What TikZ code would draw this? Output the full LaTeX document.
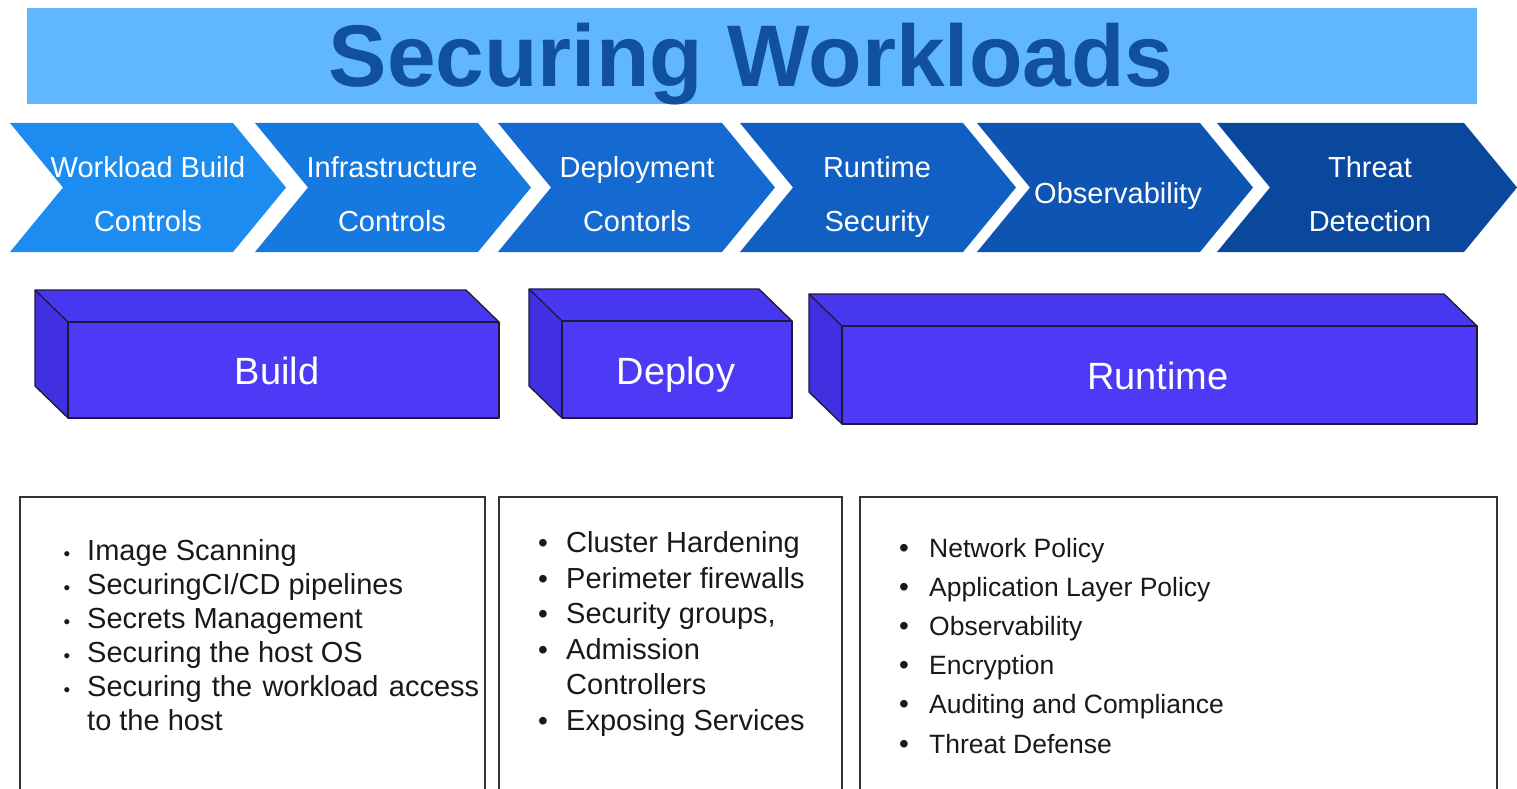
\documentclass[tikz,border=0pt]{standalone}
\usepackage{fontspec}
\setmainfont{Liberation Sans}
\definecolor{banner}{RGB}{97,183,255}
\definecolor{titleblue}{RGB}{16,80,158}
\definecolor{cA}{RGB}{28,140,240}
\definecolor{cB}{RGB}{22,121,224}
\definecolor{cC}{RGB}{20,106,208}
\definecolor{cD}{RGB}{17,95,194}
\definecolor{cE}{RGB}{14,84,178}
\definecolor{cF}{RGB}{10,72,158}
\definecolor{boxfront}{RGB}{76,58,246}
\definecolor{boxtop}{RGB}{72,55,240}
\definecolor{boxside}{RGB}{64,48,225}
\definecolor{boxedge}{RGB}{30,25,60}
\definecolor{txt}{RGB}{25,25,25}
\begin{document}
\begin{tikzpicture}[x=1pt,y=-1pt,
  chevtext/.style={text=white,font=\fontsize{29}{54}\selectfont,align=center,inner sep=0pt,anchor=base},
  boxtext/.style={text=white,font=\fontsize{38}{40}\selectfont,inner sep=0pt,anchor=base},
  listtext/.style={text=txt,anchor=base west,inner sep=0pt,font=\fontsize{29}{34}\selectfont},
  listtextc/.style={text=txt,anchor=base west,inner sep=0pt,font=\fontsize{26.5}{34}\selectfont},
  smallbul/.style={text=txt,anchor=base,inner sep=0pt,font=\fontsize{19}{19}\selectfont},
  bigbul/.style={text=txt,anchor=base,inner sep=0pt,font=\fontsize{28}{28}\selectfont},
  listbox/.style={draw=black!80,line width=1.6pt},
  cubeedge/.style={draw=boxedge,line width=1.3pt,line join=round}
]
\useasboundingbox (0,0) rectangle (1517,789);
\clip (0,0) rectangle (1517,789);
% banner
\fill[banner] (27,8) rectangle (1477,104);
\node[anchor=base,text=titleblue,inner sep=0pt,font=\fontsize{87.5}{90}\selectfont\bfseries] (title) at (751,87) {Securing Workloads};
% chevrons
\newcommand{\chev}[3]{% left, width, color
  \fill[#3] (#1,123) -- ++(#2,0) -- ++(53,64.5) -- ++(-53,64.5) -- ++(-#2,0) -- ++(53,-64.5) -- cycle;}
\chev{10}{223}{cA}
\chev{255}{223}{cB}
\chev{498}{224}{cC}
\chev{740}{223}{cD}
\chev{977}{223}{cE}
\chev{1217}{247}{cF}
\node[chevtext] (c1) at (148,231.5) {Workload Build\\Controls};
\node[chevtext] (c2) at (392,231.5) {Infrastructure\\Controls};
\node[chevtext] (c3) at (637,231.5) {Deployment\\Contorls};
\node[chevtext] (c4) at (877,231.5) {Runtime\\Security};
\node[chevtext] (c5) at (1118,203) {Observability};
\node[chevtext] (c6) at (1370,231.5) {Threat\\Detection};
% cuboids
\newcommand{\cuboid}[4]{% x1 y1 x2 y2 of front face
  \fill[boxtop] (#1,#2) -- (#1-33,#2-32) -- (#3-33,#2-32) -- (#3,#2) -- cycle;
  \fill[boxside] (#1,#2) -- (#1-33,#2-32) -- (#1-33,#4-32) -- (#1,#4) -- cycle;
  \fill[boxfront] (#1,#2) rectangle (#3,#4);
  \draw[cubeedge] (#1,#2) rectangle (#3,#4);
  \draw[cubeedge] (#1,#2) -- (#1-33,#2-32) -- (#3-33,#2-32) -- (#3,#2);
  \draw[cubeedge] (#1-33,#2-32) -- (#1-33,#4-32) -- (#1,#4);}
\cuboid{68}{322}{499}{418}
\cuboid{562}{321}{792}{418}
\cuboid{842}{326}{1477}{424}
\node[boxtext] (bbuild) at (277,384.5) {Build};
\node[boxtext] (bdeploy) at (676,384.5) {Deploy};
\node[boxtext] (bruntime) at (1158,389.5) {Runtime};
% list boxes
\draw[listbox] (20,800) -- (20,497) -- (485,497) -- (485,800);
\draw[listbox] (499,800) -- (499,497) -- (842,497) -- (842,800);
\draw[listbox] (860,800) -- (860,497) -- (1497,497) -- (1497,800);
% box 1
\node[smallbul] (l1b1) at (67,560) {•};
\node[listtext] (l1t1) at (87,560) {Image Scanning};
\node[smallbul] (l1b2) at (67,594) {•};
\node[listtext] (l1t2) at (87,594) {SecuringCI/CD pipelines};
\node[smallbul] (l1b3) at (67,628) {•};
\node[listtext] (l1t3) at (87,628) {Secrets Management};
\node[smallbul] (l1b4) at (67,662) {•};
\node[listtext] (l1t4) at (87,662) {Securing the host OS};
\node[smallbul] (l1b5) at (67,696) {•};
\node[listtext] (l1t5) at (87,696) {\makebox[392pt][s]{Securing the workload access}};
\node[listtext] (l1t6) at (87,730) {to the host};
% box 2
\node[bigbul] (l2b1) at (543,552) {•};
\node[listtext] (l2t1) at (566,552) {Cluster Hardening};
\node[bigbul] (l2b2) at (543,588) {•};
\node[listtext] (l2t2) at (566,588) {Perimeter firewalls};
\node[bigbul] (l2b3) at (543,623) {•};
\node[listtext] (l2t3) at (566,623) {Security groups,};
\node[bigbul] (l2b4) at (543,659) {•};
\node[listtext] (l2t4) at (566,659) {Admission};
\node[listtext] (l2t5) at (566,694) {Controllers};
\node[bigbul] (l2b6) at (543,730) {•};
\node[listtext] (l2t6) at (566,730) {Exposing Services};
% box 3
\foreach \t [count=\i] in {Network Policy,Application Layer Policy,Observability,Encryption,Auditing and Compliance,Threat Defense}{
  \node[bigbul] (l3b\i) at (904,{557+39.2*(\i-1)}) {•};
  \node[listtextc] (l3t\i) at (929,{557+39.2*(\i-1)}) {\t};
}
\end{tikzpicture}
\end{document}
